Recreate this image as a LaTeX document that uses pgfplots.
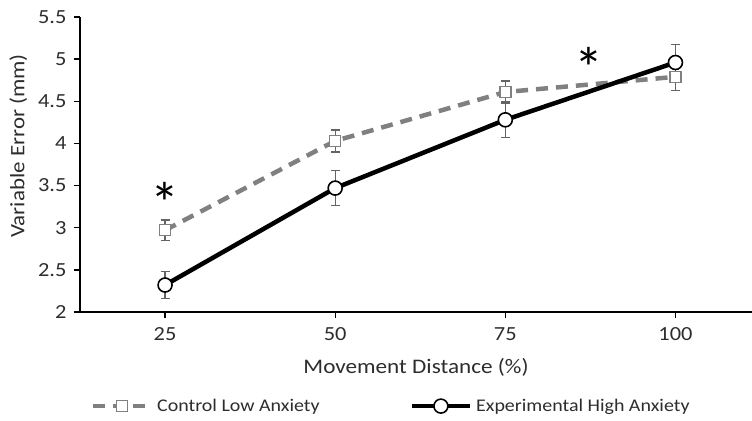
\documentclass[border=0pt]{standalone}
\usepackage{pgfplots}
\pgfplotsset{compat=1.18}
\usepackage{fontspec}
\setmainfont{Carlito}[FakeStretch=1.12]
\newfontfamily\astfont{Carlito}
\definecolor{ctrl}{RGB}{128,128,128}
\definecolor{errc}{RGB}{100,100,100}
\definecolor{txt}{RGB}{45,45,45}
\begin{document}
\begin{tikzpicture}
\begin{axis}[
  width=672pt, height=295pt, scale only axis,
  xmin=0.5, xmax=4.45, ymin=2, ymax=5.5,
  xtick={1,2,3,4}, xticklabels={25,50,75,100},
  ytick={2,2.5,3,3.5,4,4.5,5,5.5},
  axis x line*=bottom, axis y line*=left,
  axis line style={-, line width=1.3pt, black},
  tick style={line width=1.3pt, black},
  tick align=outside, major tick length=6pt,
  /pgf/number format/assume math mode=true,
  ticklabel style={font=\fontsize{20}{22}\selectfont, text=txt},
  xticklabel style={yshift=-6pt},
  yticklabel style={xshift=-4pt},
  xlabel={Movement Distance (\%)},
  ylabel={Variable Error (mm)},
  xlabel style={font=\fontsize{20.7}{24}\selectfont, text=txt, at={(axis description cs:0.5,-0.186)}, anchor=center},
  ylabel style={font=\fontsize{20.5}{24}\selectfont, text=txt, at={(axis description cs:-0.092,0.563)}, anchor=center},
  legend columns=2,
  legend style={draw=none, at={(0.463,-0.319)}, anchor=center,
    font=\fontsize{17.8}{22}\selectfont, text=txt,
    /tikz/every even column/.append style={column sep=88pt},
    /tikz/every odd column/.append style={column sep=2pt},
    inner sep=0pt},
  legend cell align=left,
  legend image code/.code={\draw[mark repeat=2,mark phase=2,#1] plot coordinates {(0pt,0pt) (29pt,0pt) (58pt,0pt)};},
  clip=false,
]
\addplot[ctrl, line width=4.5pt, dash pattern=on 12pt off 8pt,
  mark=square*, mark size=5.5pt,
  mark options={solid, fill=white, draw=ctrl, line width=1.5pt},
  error bars/.cd, y dir=both, y explicit,
  error bar style={line width=1.3pt, errc, solid},
  error mark options={rotate=90, mark size=4.5pt, line width=1.3pt, errc, solid}]
  coordinates {
  (1,2.97) +- (0,0.12)
  (2,4.03) +- (0,0.13)
  (3,4.61) +- (0,0.13)
  (4,4.79) +- (0,0.16)
  };
\addlegendentry{Control Low Anxiety}
\addplot[black, line width=4.5pt,
  mark=*, mark size=7pt,
  mark options={fill=white, draw=black, line width=1.6pt},
  error bars/.cd, y dir=both, y explicit,
  error bar style={line width=1.3pt, errc},
  error mark options={rotate=90, mark size=4.5pt, line width=1.3pt, errc}]
  coordinates {
  (1,2.32) +- (0,0.16)
  (2,3.47) +- (0,0.21)
  (3,4.28) +- (0,0.21)
  (4,4.96) +- (0,0.21)
  };
\addlegendentry{Experimental High Anxiety}
\node[font=\astfont\fontsize{58}{58}\selectfont, anchor=center] at (axis cs:1,3.30) {*};
\node[font=\astfont\fontsize{58}{58}\selectfont, anchor=center] at (axis cs:3.49,4.90) {*};
\end{axis}
\pgfresetboundingbox
\path (current axis.south west) ++(-80pt,-109pt) rectangle ([shift={(0pt,17pt)}]current axis.north east);
\end{tikzpicture}
\end{document}
